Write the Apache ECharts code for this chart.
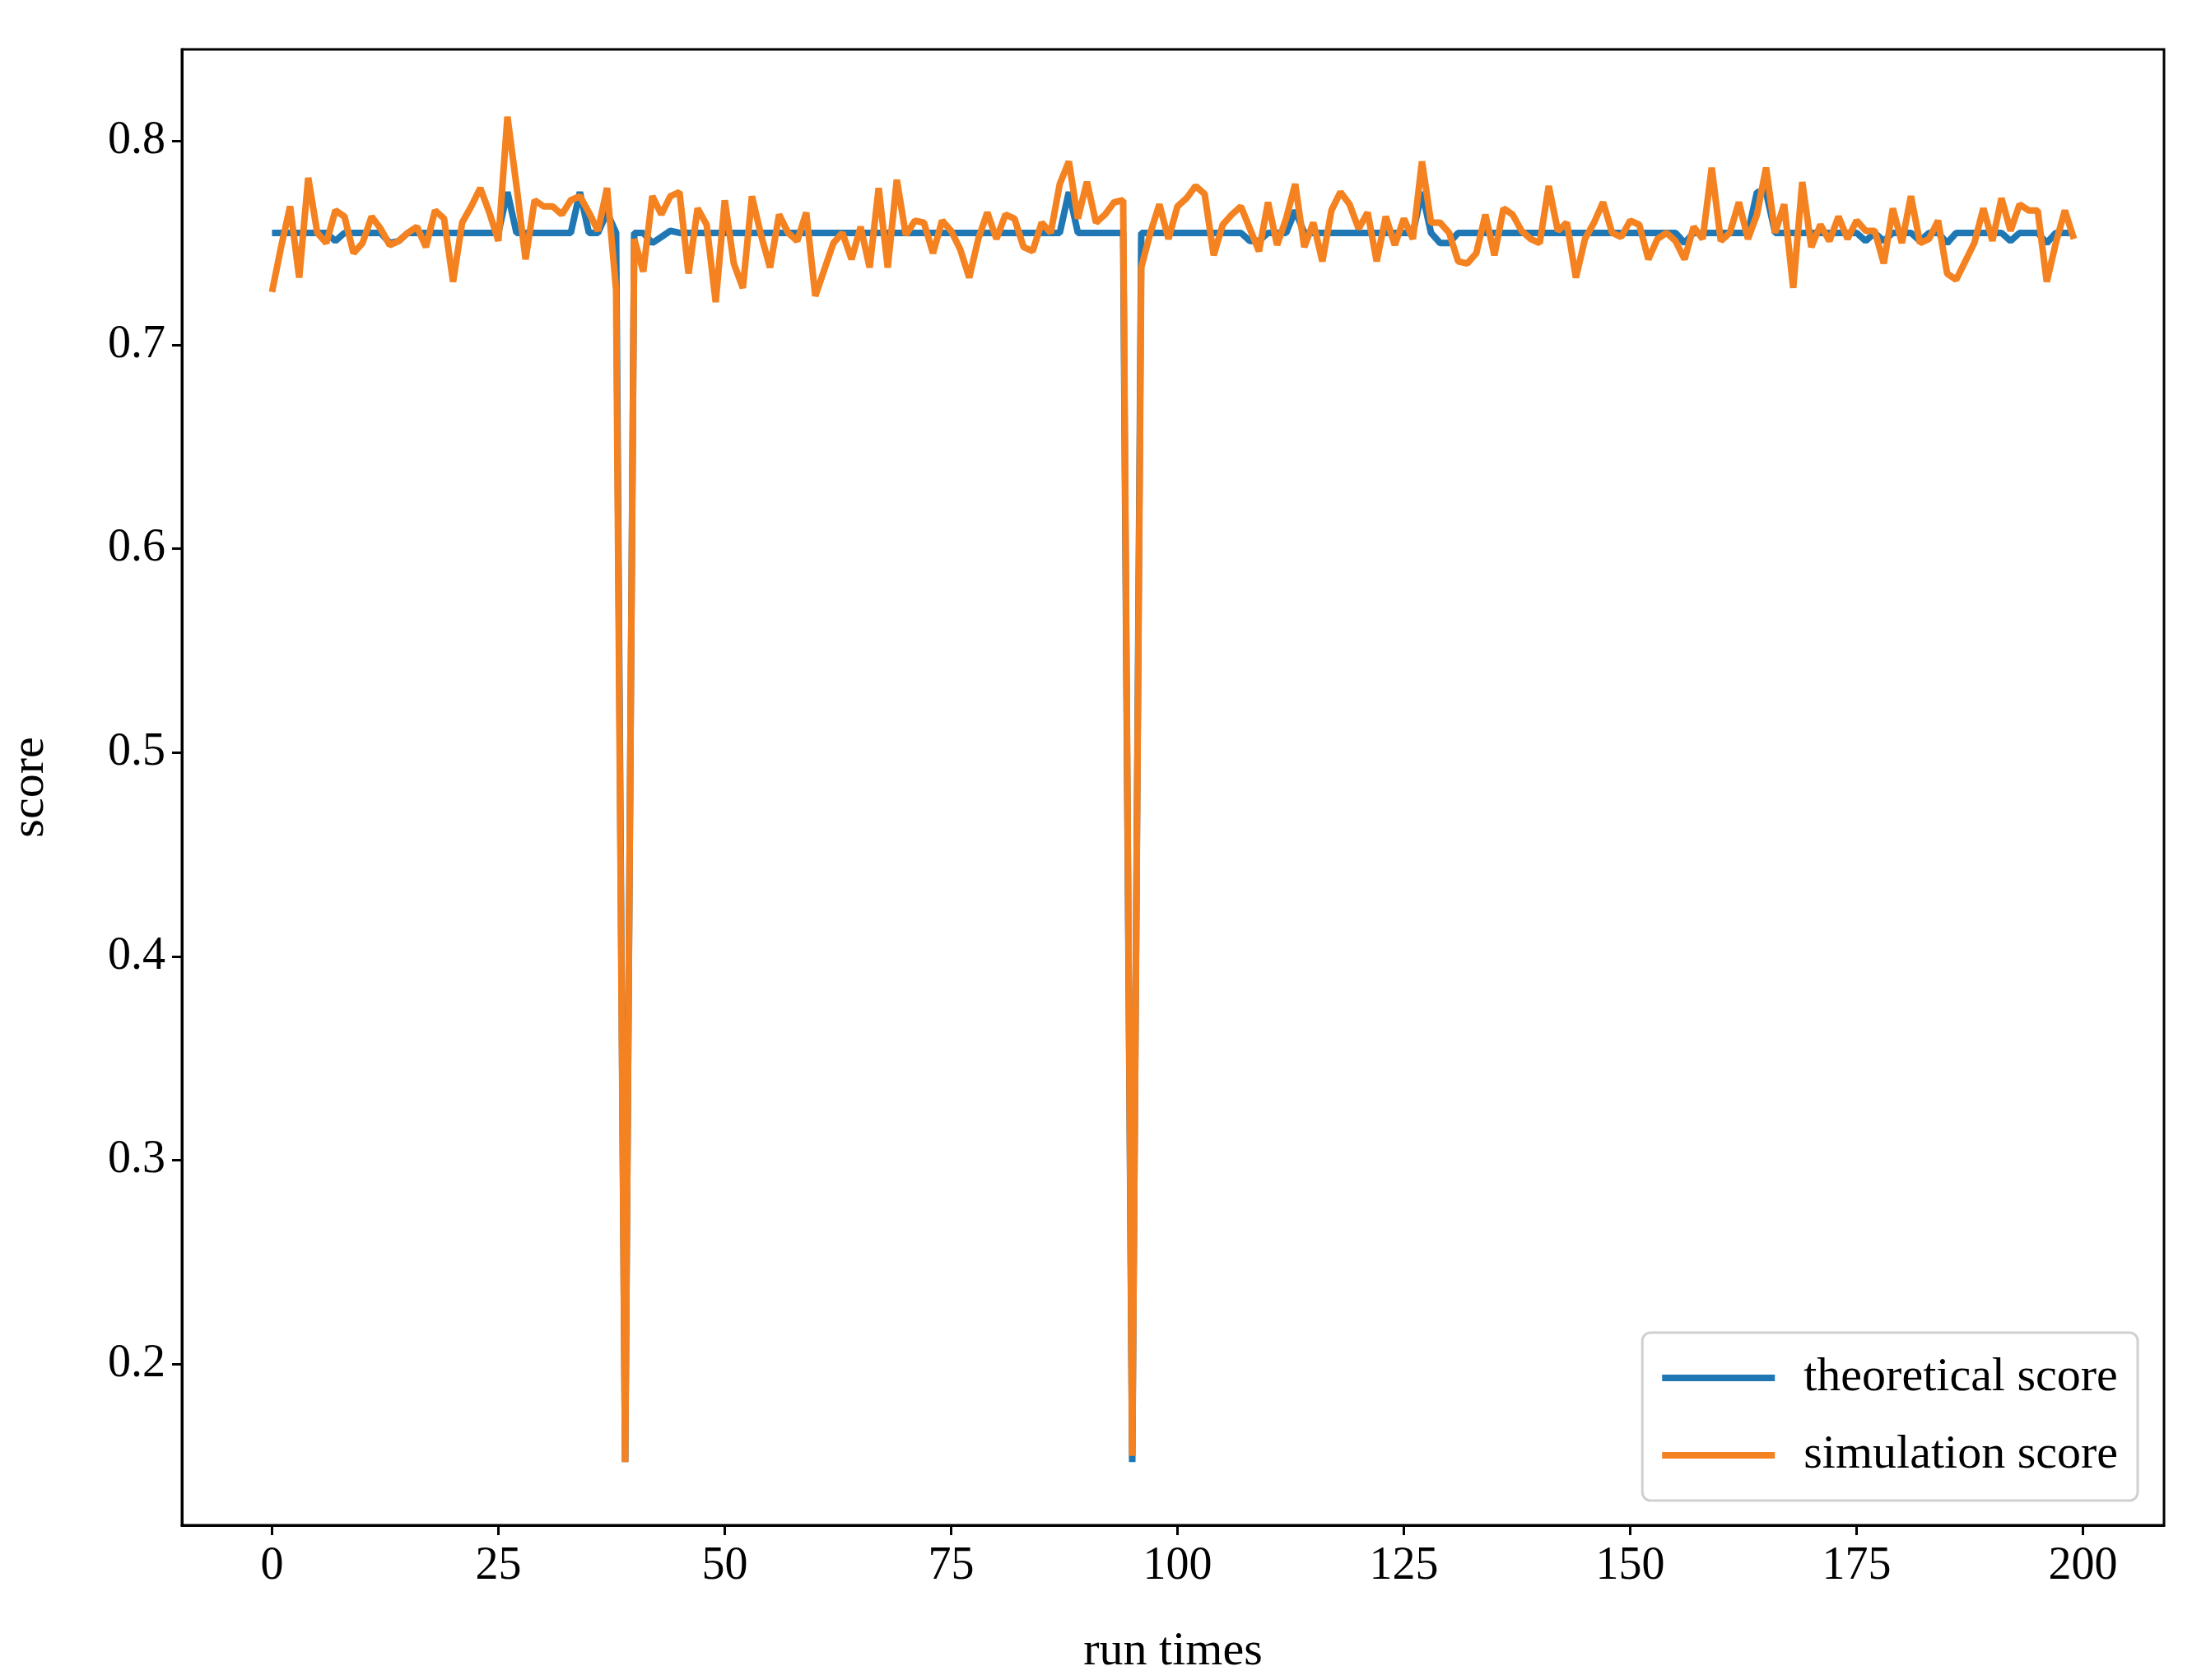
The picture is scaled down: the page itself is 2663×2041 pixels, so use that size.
<!DOCTYPE html>
<html>
<head>
<meta charset="utf-8">
<script src="https://cdn.jsdelivr.net/npm/echarts@6/dist/echarts.min.js"></script>
<style>html,body{margin:0;padding:0;background:#fff}#chart{width:2663px;height:2041px}</style>
</head>
<body>
<div id="chart"></div>
<script>
// simulation score per run
var simulation = [
 0.726,0.748,0.768,0.733,0.782,0.755,0.750,0.766,0.763,0.745,
 0.750,0.763,0.757,0.749,0.751,0.755,0.758,0.748,0.766,0.762,
 0.731,0.760,0.768,0.777,0.765,0.751,0.812,0.778,0.742,0.771,
 0.768,0.768,0.764,0.771,0.773,0.765,0.756,0.777,0.727,0.152,
 0.752,0.736,0.773,0.764,0.773,0.775,0.735,0.767,0.759,0.721,
 0.771,0.740,0.728,0.773,0.754,0.738,0.764,0.755,0.751,0.765,
 0.724,0.737,0.750,0.755,0.742,0.758,0.738,0.777,0.738,0.781,
 0.754,0.761,0.760,0.745,0.761,0.756,0.747,0.733,0.752,0.765,
 0.752,0.764,0.762,0.748,0.746,0.760,0.755,0.779,0.790,0.762,
 0.780,0.760,0.764,0.770,0.771,0.155,0.738,0.755,0.769,0.752,
 0.768,0.772,0.778,0.774,0.744,0.759,0.764,0.768,0.757,0.746,
 0.770,0.749,0.762,0.779,0.748,0.760,0.741,0.766,0.775,0.769,
 0.757,0.765,0.741,0.763,0.749,0.762,0.752,0.790,0.760,0.760,
 0.755,0.741,0.740,0.745,0.764,0.744,0.767,0.764,0.756,0.752,
 0.750,0.778,0.756,0.760,0.733,0.752,0.760,0.770,0.755,0.753,
 0.761,0.759,0.742,0.752,0.755,0.751,0.742,0.758,0.752,0.787,
 0.751,0.755,0.770,0.752,0.764,0.787,0.755,0.769,0.728,0.780,
 0.748,0.759,0.751,0.763,0.752,0.761,0.756,0.756,0.740,0.767,
 0.750,0.773,0.750,0.752,0.761,0.735,0.732,0.741,0.750,0.767,
 0.751,0.772,0.756,0.769,0.766,0.766,0.731,0.750,0.766,0.752
];
// theoretical score per run
var theoretical = [
 0.755,0.755,0.755,0.755,0.755,0.755,0.755,0.751,0.755,0.755,
 0.755,0.755,0.755,0.750,0.751,0.755,0.755,0.755,0.755,0.755,
 0.755,0.755,0.755,0.755,0.755,0.755,0.775,0.755,0.755,0.755,
 0.755,0.755,0.755,0.755,0.775,0.755,0.755,0.765,0.755,0.152,
 0.755,0.755,0.750,0.753,0.756,0.755,0.755,0.755,0.755,0.755,
 0.755,0.755,0.755,0.755,0.755,0.755,0.755,0.755,0.755,0.755,
 0.755,0.755,0.755,0.755,0.755,0.755,0.755,0.755,0.755,0.755,
 0.755,0.755,0.755,0.755,0.755,0.755,0.755,0.755,0.755,0.755,
 0.755,0.755,0.755,0.755,0.755,0.755,0.755,0.755,0.775,0.755,
 0.755,0.755,0.755,0.755,0.755,0.152,0.755,0.755,0.755,0.755,
 0.755,0.755,0.755,0.755,0.755,0.755,0.755,0.755,0.751,0.751,
 0.755,0.755,0.755,0.766,0.755,0.755,0.755,0.755,0.755,0.755,
 0.755,0.755,0.755,0.755,0.755,0.755,0.755,0.775,0.755,0.750,
 0.750,0.755,0.755,0.755,0.755,0.755,0.755,0.755,0.755,0.755,
 0.755,0.755,0.755,0.755,0.755,0.755,0.755,0.755,0.755,0.755,
 0.755,0.755,0.755,0.755,0.755,0.755,0.750,0.755,0.755,0.755,
 0.755,0.755,0.755,0.755,0.775,0.775,0.755,0.755,0.755,0.755,
 0.755,0.755,0.755,0.755,0.755,0.755,0.751,0.755,0.751,0.755,
 0.755,0.755,0.751,0.755,0.755,0.750,0.755,0.755,0.755,0.755,
 0.755,0.755,0.751,0.755,0.755,0.755,0.750,0.755,0.755,0.755
];
var seriesNames = ['theoretical score', 'simulation score'];
var xTicks = [0, 25, 50, 75, 100, 125, 150, 175, 200];
var yTicks = [0.2, 0.3, 0.4, 0.5, 0.6, 0.7, 0.8];

function pairs(arr) {
    var out = [];
    for (var i = 0; i < arr.length; i++) out.push([i, arr[i]]);
    return out;
}

var chart = echarts.init(document.getElementById('chart'));
var font = 'Liberation Serif';
var option = {
    animation: false,
    backgroundColor: '#fff',
    grid: { left: 218, right: 34, top: 60, bottom: 187, show: true,
            borderColor: '#000', borderWidth: 3 },
    xAxis: {
        type: 'value', min: -9.95, max: 208.95,
        name: 'run times', nameLocation: 'middle', nameGap: 125,
        nameTextStyle: { fontFamily: font, fontSize: 58, color: '#000' },
        axisLine: { onZero: false, lineStyle: { color: '#000', width: 3 } },
        axisTick: { length: 12, customValues: xTicks, lineStyle: { color: '#000', width: 3 } },
        axisLabel: { fontFamily: font, fontSize: 56, color: '#000', margin: 22,
            customValues: xTicks },
        splitLine: { show: false }
    },
    yAxis: {
        type: 'value', min: 0.121, max: 0.845,
        name: 'score', nameLocation: 'middle', nameGap: 155,
        nameTextStyle: { fontFamily: font, fontSize: 58, color: '#000' },
        axisLine: { show: true, onZero: false, lineStyle: { color: '#000', width: 3 } },
        axisTick: { show: true, length: 12, customValues: yTicks, lineStyle: { color: '#000', width: 3 } },
        axisLabel: { fontFamily: font, fontSize: 56, color: '#000', margin: 20,
            customValues: yTicks,
            formatter: function (v) { return v.toFixed(1); } },
        splitLine: { show: false }
    },
    legend: {
        orient: 'vertical', right: 66, bottom: 218,
        data: seriesNames,
        icon: 'rect', itemWidth: 137, itemHeight: 8, itemGap: 36,
        padding: [26, 24, 26, 24],
        borderColor: '#d0d0d0', borderWidth: 3, borderRadius: 10,
        backgroundColor: 'rgba(255,255,255,0.8)',
        textStyle: { fontFamily: font, fontSize: 58, color: '#000', padding: [0, 0, 0, 30] }
    },
    series: [
        { name: seriesNames[0], type: 'line', data: pairs(theoretical), showSymbol: false,
          itemStyle: { color: '#1f77b4' }, lineStyle: { color: '#1f77b4', width: 8 } },
        { name: seriesNames[1], type: 'line', data: pairs(simulation), showSymbol: false,
          itemStyle: { color: '#f58220' }, lineStyle: { color: '#f58220', width: 8 } }
    ]
};
chart.setOption(option);
</script>
</body>
</html>
